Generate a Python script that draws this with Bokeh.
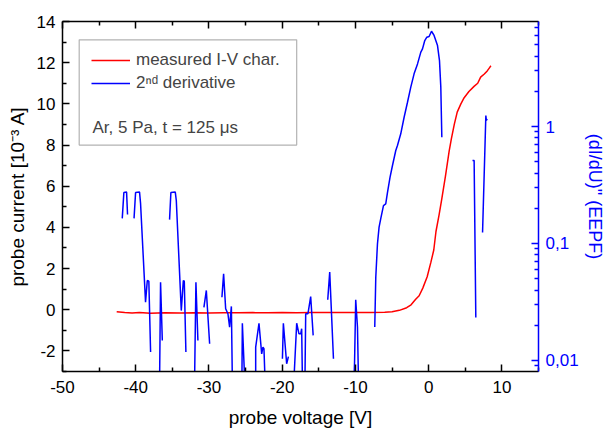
import math
from bokeh.plotting import figure
from bokeh.models import (Range1d, LinearAxis, LogAxis, LogScale, FixedTicker,
                          CustomJSTickFormatter, Legend, LegendItem, BoxAnnotation, Label)
from bokeh.embed import file_html
from bokeh.resources import INLINE

NaN = float("nan")

# measured I-V characteristic (probe voltage [V], probe current [1e-3 A])
iv_voltage = [-42.6, -41.5, -40.5, -39.5, -38.0, -36.0, -34.0, -32.0, -30.0, -28.0,
              -26.0, -24.0, -22.0, -20.0, -18.0, -16.0, -14.0, -12.0, -10.0, -8.0,
              -6.0, -5.0, -4.0, -3.0, -2.4, -1.8, -1.3, -0.8, -0.2, 0.3, 0.7, 1.0,
              1.43, 1.8, 2.3, 2.8, 3.1, 3.5, 3.9, 4.4, 4.85, 5.5, 6.2, 6.7, 7.1, 7.6,
              8.0, 8.3, 8.5]
iv_current = [-0.10, -0.14, -0.16, -0.13, -0.17, -0.15, -0.16, -0.15, -0.16, -0.15,
              -0.15, -0.14, -0.15, -0.14, -0.15, -0.14, -0.13, -0.13, -0.14, -0.13,
              -0.12, -0.10, -0.03, 0.10, 0.24, 0.50, 0.68, 1.05, 1.60, 2.30, 2.90, 3.80,
              4.62, 5.40, 6.50, 7.70, 8.30, 9.00, 9.60, 10.00, 10.30, 10.60, 10.85, 11.00,
              11.30, 11.45, 11.60, 11.75, 11.85]

# 2nd derivative (EEPF, log scale); NaN = gap (negative values not shown)
d2_voltage = [-41.84, -41.62, -41.25, -41.12, NaN,
              -40.23, -40.02, -39.48, -39.34, -38.66, -38.42, -38.21, -37.97, NaN,
              -36.74, -36.61, -36.37, NaN,
              -35.38, -35.2, -34.6, -34.46, -33.78, -33.5, -33.37, -33.15, NaN,
              -31.96, -31.78, -31.51, NaN,
              -30.69, -30.36, -29.91, NaN,
              -28.23, -28.0, -27.72, -27.41, -27.18, -26.94, -26.81, NaN,
              -25.5, -25.44, -25.13, NaN,
              -23.62, -23.62, -23.17, -22.8, -22.63, -22.49, -22.35, NaN,
              -19.97, -19.84, -19.39, -19.15, NaN,
              -18.39, -18.02, -17.71, -17.47, -17.34, -17.24, NaN,
              -16.89, -16.79, -16.48, -16.11, -15.77, NaN,
              -13.78, -13.51, -13.0, NaN,
              -10.19, -10.12, -9.96, -9.72, -9.59, NaN,
              -7.36, -7.22, -6.99, -6.77, -6.54, -6.17, -5.86, -5.62, -5.27, -4.94,
              -4.49, -4.26, -3.81, -3.35, -2.89, -2.44, -1.99, -1.52, -1.07, -0.84,
              -0.53, -0.25, 0.06, 0.39, 0.74, 1.21, 1.48, 1.66, 1.80, NaN,
              5.99, 6.21, 6.44, NaN,
              7.36, 7.81, 7.88, 7.99]
d2_eepf = [0.164, 0.273, 0.275, 0.177, NaN,
           0.164, 0.273, 0.275, 0.22, 0.0315, 0.0483, 0.0476, 0.0118, NaN,
           0.007, 0.0467, 0.0148, NaN,
           0.160, 0.273, 0.275, 0.233, 0.0267, 0.0483, 0.0476, 0.0118, NaN,
           0.007, 0.0467, 0.0148, NaN,
           0.0285, 0.0397, 0.0139, NaN,
           0.0347, 0.0550, 0.0277, 0.0251, 0.0193, 0.029, 0.007, NaN,
           0.007, 0.0208, 0.007, NaN,
           0.007, 0.013, 0.0208, 0.0114, 0.013, 0.0126, 0.007, NaN,
           0.01034, 0.0208, 0.00937, 0.0108, NaN,
           0.007, 0.0208, 0.0169, 0.0169, 0.0187, 0.007, NaN,
           0.007, 0.0251, 0.0251, 0.0352, 0.0164, NaN,
           0.033, 0.0569, 0.01034, NaN,
           0.007, 0.0095, 0.033, 0.0193, 0.007, NaN,
           0.0193, 0.0515, 0.0994, 0.138, 0.163, 0.211, 0.218, 0.274, 0.369, 0.464,
           0.624, 0.689, 0.866, 1.20, 1.613, 2.17, 2.82, 3.43, 4.32, 4.61,
           5.43, 5.80, 5.88, 6.52, 6.0, 4.92, 3.66, 2.17, 0.81, NaN,
           0.512, 0.512, 0.0233, NaN,
           0.124, 1.24, 1.125, 1.16]

x_ticks = [-50, -40, -30, -20, -10, 0, 10]
x_minor = [-45, -35, -25, -15, -5, 5, 15]
y_ticks = [-2, 0, 2, 4, 6, 8, 10, 12, 14]
y_minor = [-3, -1, 1, 3, 5, 7, 9, 11, 13]
eepf_ticks = [0.01, 0.1, 1]
eepf_minor = [k * 10.0 ** e for e in (-3, -2, -1, 0) for k in range(2, 10)]

FONT = "Liberation Sans"
RED = "#ff0000"
BLUE = "#0000ff"

p = figure(width=608, height=431, output_backend="svg", toolbar_location=None,
           x_range=Range1d(-50, 15), y_range=Range1d(-3, 14),
           min_border_left=62, min_border_right=70, min_border_top=21,
           min_border_bottom=60, background_fill_color="white",
           border_fill_color="white")
p.outline_line_color = None
p.xgrid.visible = False
p.ygrid.visible = False
p.extra_y_ranges = {"eepf": Range1d(0.00805, 7.9)}
p.extra_y_scales = {"eepf": LogScale()}

plain_fmt = "return tick.toString();"


def style_axis(ax, color="black"):
    ax.axis_line_color = color
    ax.axis_line_width = 1.5
    ax.major_tick_line_color = color
    ax.minor_tick_line_color = color
    ax.major_tick_line_width = 1.5
    ax.minor_tick_line_width = 1.5
    ax.major_tick_in = 7
    ax.major_tick_out = 0
    ax.minor_tick_in = 4
    ax.minor_tick_out = 0
    ax.major_label_text_font = FONT
    ax.major_label_text_font_size = "17px"
    ax.major_label_text_color = color
    ax.axis_label_text_font = FONT
    ax.axis_label_text_font_size = "19px"
    ax.axis_label_text_font_style = "normal"
    ax.axis_label_text_color = color


xax = p.xaxis[0]
xax.ticker = FixedTicker(ticks=x_ticks, minor_ticks=x_minor)
xax.formatter = CustomJSTickFormatter(code=plain_fmt)
xax.axis_label = "probe voltage [V]"
style_axis(xax)
xax.major_label_standoff = 9
xax.axis_label_standoff = 11

yax = p.yaxis[0]
yax.ticker = FixedTicker(ticks=y_ticks, minor_ticks=y_minor)
yax.formatter = CustomJSTickFormatter(code=plain_fmt)
yax.axis_label = "probe current [10\u207b\u00b3 A]"
style_axis(yax)
yax.major_label_standoff = 7
yax.axis_label_standoff = 6

top = LinearAxis(ticker=FixedTicker(ticks=x_ticks, minor_ticks=x_minor),
                 formatter=CustomJSTickFormatter(code="return '';"))
style_axis(top)
top.major_label_standoff = 0
p.add_layout(top, "above")

rax = LogAxis(y_range_name="eepf",
              ticker=FixedTicker(ticks=eepf_ticks, minor_ticks=eepf_minor),
              formatter=CustomJSTickFormatter(code="return tick.toString().replace('.', ',');"))
style_axis(rax, BLUE)
rax.axis_label = "(dI/dU)\" (EEPF)"
rax.axis_label_text_font_size = "18px"
rax.major_label_standoff = 7
rax.axis_label_standoff = 3
p.add_layout(rax, "right")

r_iv = p.line(iv_voltage, iv_current, line_color=RED, line_width=1.5)
r_d2 = p.line(d2_voltage, d2_eepf, line_color=BLUE, line_width=1.5, y_range_name="eepf")

legend = Legend(items=[LegendItem(label="measured I-V char.", renderers=[r_iv]),
                       LegendItem(label="2\u207f\u1d48 derivative", renderers=[r_d2])],
                location="top_left", margin=29, padding=0, spacing=3,
                glyph_width=39, glyph_height=14, label_height=14, label_standoff=6,
                label_text_font=FONT, label_text_font_size="17px",
                background_fill_alpha=0, border_line_color=None)
p.add_layout(legend)

p.add_layout(BoxAnnotation(left=-47.72, right=-18.02, top=13.11, bottom=8.0,
                           fill_alpha=0, line_color="black", line_width=1.2))
p.add_layout(Label(x=-45.9, y=8.86, text="Ar, 5 Pa, t = 125 \u03bcs",
                   text_baseline="middle", text_font=FONT, text_font_size="17px"))

open("out.html", "w").write(file_html(p, INLINE))
